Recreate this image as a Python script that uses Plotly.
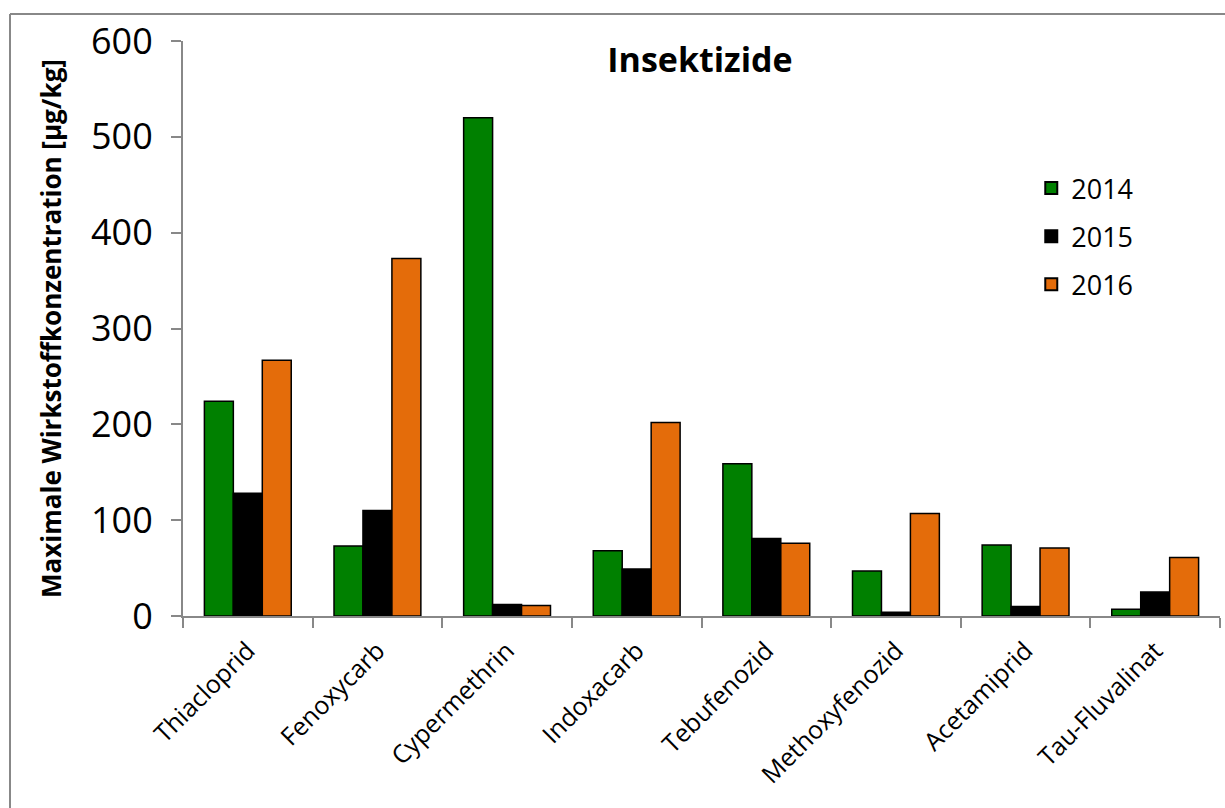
import plotly.graph_objects as go

# Maximum active-substance concentrations per insecticide and year
categories = ["Thiacloprid", "Fenoxycarb", "Cypermethrin", "Indoxacarb",
              "Tebufenozid", "Methoxyfenozid", "Acetamiprid", "Tau-Fluvalinat"]
values_2014 = [224, 73, 520, 68, 159, 47, 74, 7]
values_2015 = [128, 110, 12, 49, 81, 4, 10, 25]
values_2016 = [267, 373, 11, 202, 76, 107, 71, 61]
y_ticks = [0, 100, 200, 300, 400, 500, 600]

FONT = "Open Sans"
series = [("2014", values_2014, "#008000"),
          ("2015", values_2015, "#000000"),
          ("2016", values_2016, "#E46C0A")]

fig = go.Figure()
for name, vals, color in series:
    fig.add_trace(go.Bar(
        x=categories, y=vals, name=name, legendgroup=name,
        marker=dict(color=color, line=dict(color="#000000", width=1.5)),
    ))

W, H = 1225, 808
L, R, T, B = 183, 5, 41, 192

fig.update_layout(
    width=W, height=H,
    margin=dict(l=L, r=R, t=T, b=B),
    paper_bgcolor="white", plot_bgcolor="white",
    barmode="group", bargap=0.33, bargroupgap=0,
    font=dict(family=FONT, color="#000000"),
    title=dict(text="<b>Insektizide</b>", font=dict(size=34, family=FONT),
               x=700 / W, xanchor="center", y=1 - 60 / H, yanchor="middle"),
    legend=dict(x=0.818, y=0.786, xanchor="left", yanchor="top",
                font=dict(size=27, family=FONT), bgcolor="rgba(0,0,0,0)",
                tracegroupgap=10, itemsizing="constant"),
    showlegend=True,
)

fig.update_xaxes(
    showline=True, linecolor="#888888", linewidth=2,
    ticks="outside", tickson="boundaries", ticklen=10, tickcolor="#888888", tickwidth=2,
    tickangle=-45, tickfont=dict(size=25, family=FONT), ticklabelstandoff=8,
    showgrid=False,
)
fig.update_yaxes(
    range=[0, 600], tickvals=y_ticks,
    showline=True, linecolor="#888888", linewidth=2,
    ticks="outside", ticklen=10, tickcolor="#888888", tickwidth=2,
    tickfont=dict(size=36, family=FONT), ticklabelstandoff=11,
    showgrid=False, zeroline=False,
    title=dict(text="<b>Maximale Wirkstoffkonzentration [µg/kg]</b>",
               font=dict(size=26, family=FONT), standoff=22),
)

# Outer chart frame (top and left edges)
fx = (10 - L) / (W - L - R)
fy = (H - B - 14) / (H - T - B)
fig.add_shape(type="line", xref="paper", yref="paper",
              x0=fx, x1=1.01, y0=fy, y1=fy,
              line=dict(color="#888888", width=2))
fig.add_shape(type="line", xref="paper", yref="paper",
              x0=fx, x1=fx, y0=fy, y1=-B / (H - T - B) - 0.01,
              line=dict(color="#888888", width=2))

fig.write_html("out.html")
